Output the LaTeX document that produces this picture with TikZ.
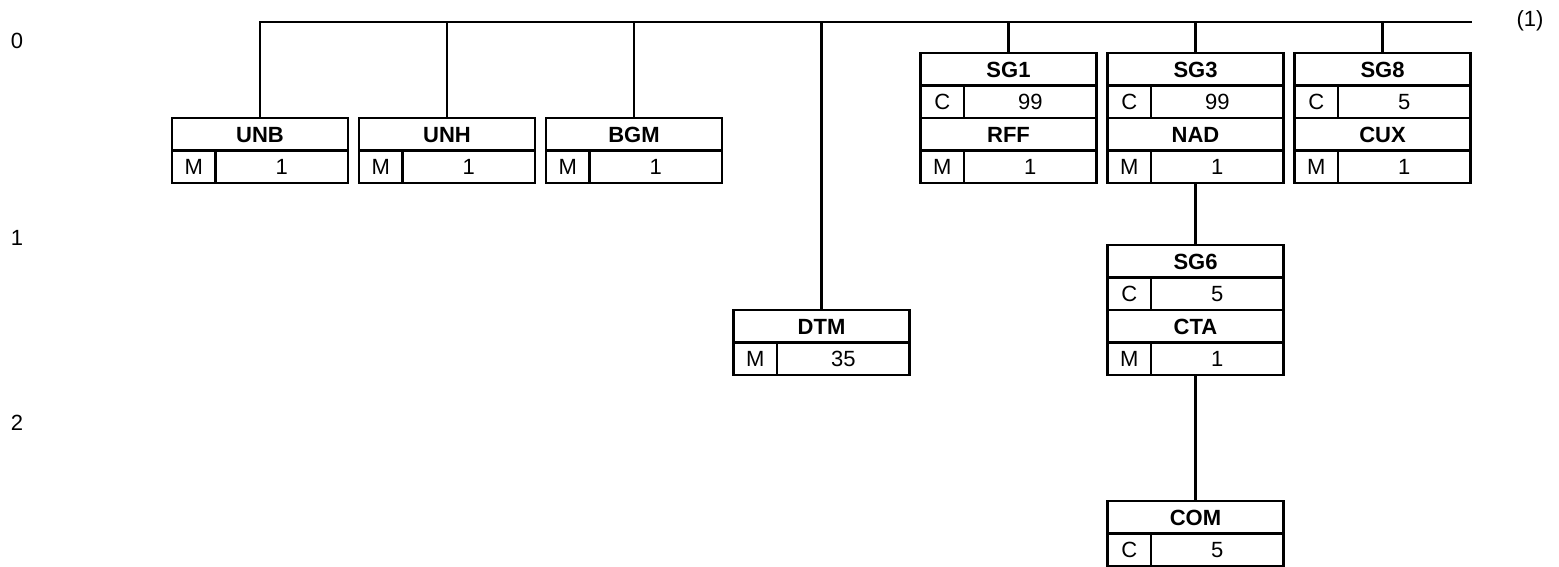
\documentclass[tikz,border=0pt]{standalone}
\usepackage{fontspec}
\setmainfont{Liberation Sans}
\usetikzlibrary{positioning}

\tikzset{
    cell/.style={draw, line width=1.1pt, minimum height=16.25pt,
        inner sep=0pt, outer sep=0pt, text height=7.9pt, text depth=0pt,
        font=\fontsize{11}{12}\selectfont},
    namecell/.style={cell, minimum width=88pt,
        font=\fontsize{11}{12}\selectfont\bfseries},
    statcell/.style={cell, minimum width=21.75pt},
    repcell/.style={cell, minimum width=66.25pt},
    link/.style={line width=1.1pt},
    level/.style={font=\fontsize{11}{12}\selectfont}
}

% segment box: node name, top middle, tag, status, repeat
\newcommand{\segbox}[5]{%
    \node[namecell, anchor=north] (#1) at #2 {#3};
    \node[statcell, anchor=north west] (#1-st) at (#1.south west) {#4};
    \node[repcell, anchor=north west] (#1-rp) at (#1-st.north east) {#5};
}

\begin{document}
\begin{tikzpicture}[
        x=0.5pt,
        y=-0.5pt
    ]

        \useasboundingbox (0,0) rectangle (1559,567);

        % =================================
        % LEVELS
        % =================================
        \node[level] (lvl0) at (17,41) {0};
        \node[level] (lvl1) at (17,238) {1};
        \node[level] (lvl2) at (17,423) {2};
        \node[level] (note) at (1530,21) {(1)};

        % =================================
        % LEVEL 0
        % =================================
        \segbox{unb}{(260,118)}{UNB}{M}{1}
        \segbox{unh}{(447,118)}{UNH}{M}{1}
        \segbox{bgm}{(634,118)}{BGM}{M}{1}
        \segbox{dtm}{(821.5,310)}{DTM}{M}{35}

        % SG1
        \segbox{sg1}{(1008.5,53)}{SG1}{C}{99}
        \segbox{rff}{(sg1.south |- sg1-st.south)}{RFF}{M}{1}

        % SG3
        \segbox{sg3}{(1195.5,53)}{SG3}{C}{99}
        \segbox{nad}{(sg3.south |- sg3-st.south)}{NAD}{M}{1}

        % SG8
        \segbox{sg8}{(1382.5,53)}{SG8}{C}{5}
        \segbox{cux}{(sg8.south |- sg8-st.south)}{CUX}{M}{1}

        % =================================
        % LEVEL 1 / 2
        % =================================
        \segbox{sg6}{(1195.5,245)}{SG6}{C}{5}
        \segbox{cta}{(sg6.south |- sg6-st.south)}{CTA}{M}{1}
        \segbox{com}{(1195.5,501)}{COM}{C}{5}

        % =================================
        % CONNECTORS
        % =================================
        \coordinate (bus-r) at (1472,22);

        \draw[link] (unb.north) |- (bus-r);
        \draw[link] (unh.north) -- (unh.north |- bus-r);
        \draw[link] (bgm.north) -- (bgm.north |- bus-r);
        \draw[link] (dtm.north) -- (dtm.north |- bus-r);
        \draw[link] (sg1.north) -- (sg1.north |- bus-r);
        \draw[link] (sg3.north) -- (sg3.north |- bus-r);
        \draw[link] (sg8.north) -- (sg8.north |- bus-r);

        \draw[link] (nad-rp.south -| sg3.south) -- (sg6.north);
        \draw[link] (cta-rp.south -| sg6.south) -- (com.north);

    \end{tikzpicture}
\end{document}
